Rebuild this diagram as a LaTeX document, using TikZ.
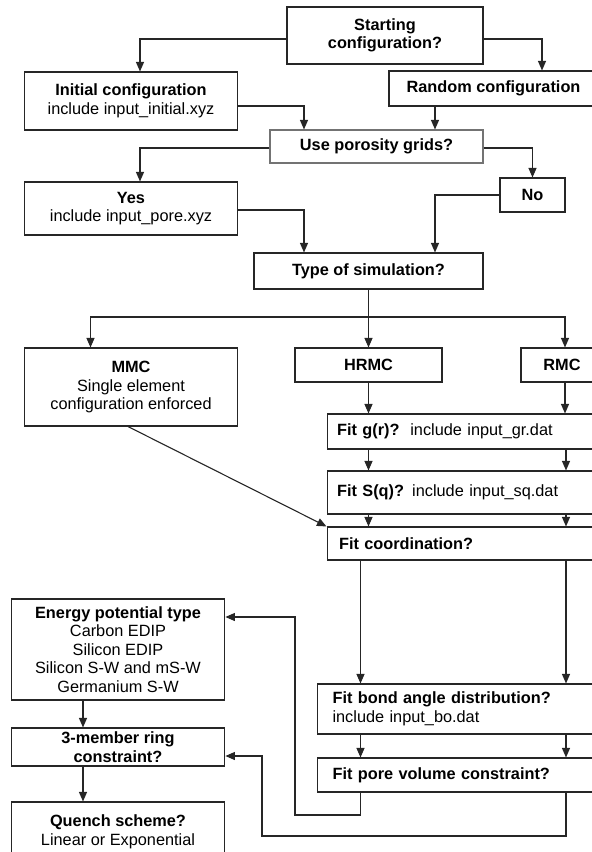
\documentclass[tikz,border=0pt]{standalone}
\usepackage{fontspec}
\setmainfont{Liberation Sans}
\usetikzlibrary{arrows.meta,calc}
\tikzset{
  box/.style={draw=black!85, line width=1.1pt, inner sep=0pt, font=\fontsize{16.3}{18.5}\selectfont, align=center},
  lbox/.style={box, align=left, anchor=west},
  arr/.style={draw=black!85, line width=1.1pt, -{Triangle[length=9.5pt,width=8pt]}},
  ln/.style={draw=black!85, line width=1.1pt}
}
\begin{document}
\begin{tikzpicture}[x=1pt,y=-1pt]
\useasboundingbox (0,0) rectangle (592,852);
\clip (0,0) rectangle (592,852);
% boxes
\node[box, minimum width=196pt, minimum height=57pt] (start) at (385,35.5) {\textbf{Starting}\\\textbf{configuration?}};
\node[box, minimum width=213.5pt, minimum height=58pt] (init) at (131,101) {\textbf{Initial configuration}\\include input\_initial.xyz};
\node[box, minimum width=231pt, minimum height=35pt] (rand) at (504.5,88.5) {\hspace*{-22pt}\textbf{Random configuration}};
\node[box, draw=black!55, minimum width=213pt, minimum height=33pt] (use) at (376.5,146.5) {\textbf{Use porosity grids?}};
\node[box, minimum width=213.5pt, minimum height=53pt] (yes) at (131,208.5) {\textbf{Yes}\\include input\_pore.xyz};
\node[box, minimum width=65pt, minimum height=34pt] (no) at (532.5,195) {\textbf{No}};
\node[box, minimum width=229pt, minimum height=36pt] (type) at (368.5,271) {\textbf{Type of simulation?}};
\node[box, minimum width=213.5pt, minimum height=78pt] (mmc) at (131,387) {\textbf{MMC}\\Single element\\configuration enforced};
\node[box, minimum width=147pt, minimum height=34pt] (hrmc) at (368.5,365) {\textbf{HRMC}};
\node[box, minimum width=88pt, minimum height=34pt] (rmc) at (565,365) {\hspace*{-6pt}\textbf{RMC}};
\node[lbox, text width=270pt, inner xsep=10pt, minimum height=35pt] (fitgr) at (326.5,431.5) {\textbf{Fit g(r)?}\ \ include input\_gr.dat};
\node[lbox, text width=270pt, inner xsep=10pt, minimum height=43pt] (fitsq) at (326.5,492.5) {\textbf{Fit S(q)?} include input\_sq.dat};
\node[lbox, text width=270pt, inner xsep=12pt, minimum height=33pt] (fitco) at (326.5,543.5) {\textbf{Fit coordination?}};
\node[lbox, text width=270pt, inner xsep=15pt, minimum height=50pt] (fitbo) at (317,709) {\textbf{Fit bond angle distribution?}\\include input\_bo.dat};
\node[lbox, text width=270pt, inner xsep=15pt, minimum height=34pt] (fitpv) at (317,775) {\textbf{Fit pore volume constraint?}};
\node[box, minimum width=213.7pt, minimum height=101pt] (energy) at (118,649.5) {\textbf{Energy potential type}\\Carbon EDIP\\Silicon EDIP\\Silicon S-W and mS-W\\Germanium S-W};
\node[box, minimum width=213.7pt, minimum height=38pt] (ring) at (118,747) {\textbf{3-member ring}\\\textbf{constraint?}};
\node[box, minimum width=213.7pt, minimum height=60pt] (quench) at (118,832) {\textbf{Quench scheme?}\\Linear or Exponential};
% helper coordinates
\coordinate (split) at (368.5,317);
\coordinate (ca) at (368.5,0);
\coordinate (cb) at (566,0);
\coordinate (c1) at (360.5,0);
\coordinate (lp1) at (295,815);
\coordinate (lp2) at (262,836);
% connectors
\draw[arr] ([yshift=-3.5pt]start.west) -| ([xshift=9pt]init.north);
\draw[arr] ([yshift=-3.5pt]start.east) -| ([xshift=37.5pt]rand.north);
\draw[arr] ([yshift=-5pt]init.east) -| ([xshift=-72.5pt]use.north);
\draw[arr] ([xshift=-69.5pt]rand.south) -- ([xshift=58.5pt]use.north);
\draw[arr] ([yshift=-1.5pt]use.west) -| ([xshift=9pt]yes.north);
\draw[arr] ([yshift=-1.5pt]use.east) -| (no.north);
\draw[arr] ([yshift=-1.5pt]yes.east) -| ([xshift=-64.5pt]type.north);
\draw[arr] (no.west) -| ([xshift=66.5pt]type.north);
\draw[ln] (type.south) -- (split);
\draw[arr] (split) -| ([xshift=-40.5pt]mmc.north);
\draw[arr] (split) -- (hrmc.north);
\draw[arr] (split) -| (rmc.north);
\draw[arr] (hrmc.south) -- (hrmc.south |- fitgr.north);
\draw[arr] (rmc.south) -- (rmc.south |- fitgr.north);
\draw[arr] (ca |- fitgr.south) -- (ca |- fitsq.north);
\draw[arr] (cb |- fitgr.south) -- (cb |- fitsq.north);
\draw[arr] (ca |- fitsq.south) -- (ca |- fitco.north);
\draw[arr] (cb |- fitsq.south) -- (cb |- fitco.north);
\draw[arr] ([xshift=-3pt]mmc.south) -- (fitco.north west);
\draw[arr] (c1 |- fitco.south) -- (c1 |- fitbo.north);
\draw[arr] (cb |- fitco.south) -- (cb |- fitbo.north);
\draw[arr] (c1 |- fitbo.south) -- (c1 |- fitpv.north);
\draw[arr] (cb |- fitbo.south) -- (cb |- fitpv.north);
\draw[arr] (c1 |- fitpv.south) |- (lp1) |- ([yshift=32.5pt]energy.east);
\draw[arr] (cb |- fitpv.south) |- (lp2) |- ([yshift=-9pt]ring.east);
\draw[arr] ([xshift=-35pt]energy.south) -- ([xshift=-35pt]ring.north);
\draw[arr] ([xshift=-35pt]ring.south) -- ([xshift=-35pt]quench.north);
\end{tikzpicture}
\end{document}
